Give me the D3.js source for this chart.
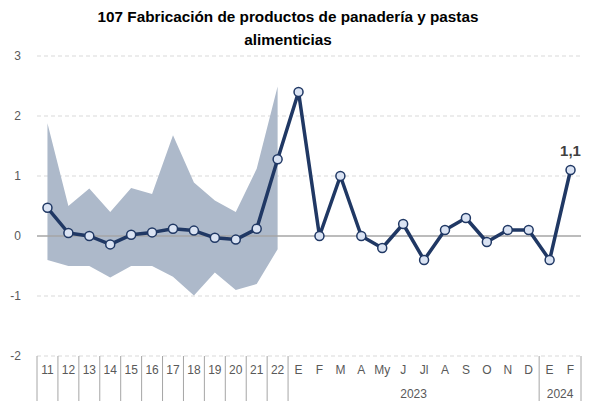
<!DOCTYPE html>
<html><head><meta charset="utf-8">
<script src="https://cdn.jsdelivr.net/npm/d3@7"></script>
<style>body{margin:0;background:#fff}svg{display:block}</style>
</head><body>
<svg id="c" width="590" height="401"></svg>
<script>
const titleLines = ["107 Fabricación de productos de panadería y pastas", "alimenticias"];
const categories = ["11","12","13","14","15","16","17","18","19","20","21","22","E","F","M","A","My","J","Jl","A","S","O","N","D","E","F"];
const values = [0.47,0.05,0.0,-0.14,0.02,0.06,0.12,0.09,-0.03,-0.06,0.12,1.28,2.4,0.0,1.0,0.0,-0.2,0.2,-0.4,0.1,0.3,-0.1,0.1,0.1,-0.4,1.1];
const bandUpper = [1.88,0.5,0.79,0.4,0.8,0.7,1.68,0.89,0.59,0.4,1.12,2.49];
const bandLower = [-0.4,-0.5,-0.5,-0.69,-0.5,-0.5,-0.68,-0.99,-0.61,-0.9,-0.8,-0.22];
const yTicks = [-2,-1,0,1,2,3];
const yearGroups = [{label:"2023", start:12, end:23},{label:"2024", start:24, end:25}];
const separators = [0,1,2,3,4,5,6,7,8,9,10,11,12,24,26];
const lastLabel = "1,1";

const svg = d3.select("#c");
const x = d3.scaleBand().domain(d3.range(categories.length)).range([37,581]).padding(0);
const cx = i => x(i) + x.bandwidth()/2;
const y = d3.scaleLinear().domain([-2,3]).range([356,56]);
const navy = "#203864";

// title
const t = svg.append("g");
titleLines.forEach((s,i)=>{
  t.append("text").attr("x",288).attr("y",21.5+i*23).attr("text-anchor","middle")
   .attr("font-family","Liberation Sans, Arial, sans-serif").attr("font-weight","bold")
   .attr("font-size",15.3).attr("fill","#000").text(s);
});

// gridlines
svg.append("g").selectAll("line").data(yTicks.filter(d=>d!==0)).join("line")
  .attr("x1",37).attr("x2",581).attr("y1",d=>y(d)).attr("y2",d=>y(d))
  .attr("stroke","#d9d9d9").attr("stroke-width",1).attr("stroke-dasharray","4,3");

// y labels
svg.append("g").selectAll("text").data(yTicks).join("text")
  .attr("x",21).attr("y",d=>y(d)+4).attr("text-anchor","end")
  .attr("font-family","Liberation Sans, Arial, sans-serif").attr("font-size",12).attr("fill","#595959")
  .text(d=>d);

// band
const area = d3.area().x((d,i)=>cx(i)).y0((d,i)=>y(bandLower[i])).y1(d=>y(d));
svg.append("path").datum(bandUpper).attr("d",area).attr("fill","#adb9ca");

// zero line
svg.append("line").attr("x1",37).attr("x2",581).attr("y1",y(0)).attr("y2",y(0))
  .attr("stroke","#a6a6a6").attr("stroke-width",1.5);

// separators
svg.append("g").selectAll("line").data(separators).join("line")
  .attr("x1",d=> d>=categories.length ? x(categories.length-1)+x.bandwidth() : x(d))
  .attr("x2",d=> d>=categories.length ? x(categories.length-1)+x.bandwidth() : x(d))
  .attr("y1",356).attr("y2",401).attr("stroke","#a6a6a6").attr("stroke-width",1);

// category labels
svg.append("g").selectAll("text").data(categories).join("text")
  .attr("x",(d,i)=>cx(i)).attr("y",374).attr("text-anchor","middle")
  .attr("font-family","Liberation Sans Narrow, Liberation Sans, Arial, sans-serif").attr("font-size",12).attr("fill","#595959")
  .text(d=>d);

// year labels
svg.append("g").selectAll("text").data(yearGroups).join("text")
  .attr("x",d=>(x(d.start)+x(d.end)+x.bandwidth())/2).attr("y",398).attr("text-anchor","middle")
  .attr("font-family","Liberation Sans Narrow, Liberation Sans, Arial, sans-serif").attr("font-size",12).attr("fill","#595959")
  .text(d=>d.label);

// line
svg.append("path").datum(values).attr("d",d3.line().x((d,i)=>cx(i)).y(d=>y(d)))
  .attr("fill","none").attr("stroke",navy).attr("stroke-width",3.5).attr("stroke-linejoin","round");

svg.append("g").selectAll("circle").data(values).join("circle")
  .attr("cx",(d,i)=>cx(i)).attr("cy",d=>y(d)).attr("r",4.5)
  .attr("fill","#dae3f3").attr("stroke",navy).attr("stroke-width",1.5);

// last label
const li = values.length-1;
svg.append("text").attr("x",cx(li)).attr("y",y(values[li])-14).attr("text-anchor","middle")
  .attr("font-family","Liberation Sans, Arial, sans-serif").attr("font-weight","bold").attr("font-size",15)
  .attr("fill","#404040").text(lastLabel);
</script>
</body></html>
